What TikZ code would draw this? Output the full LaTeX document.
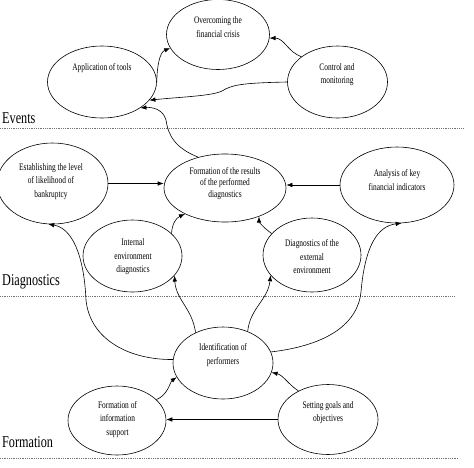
\documentclass[tikz,border=0pt]{standalone}
\usepackage{fontspec}
\setmainfont{Liberation Serif}
\newfontfamily\nrwfont[FakeStretch=0.74]{Liberation Serif}
\usetikzlibrary{shapes.geometric,arrows.meta}

\begin{document}
\begin{tikzpicture}[x=1pt,y=-1pt,
    ell/.style={draw,ellipse,line width=0.6pt,inner sep=0pt},
    txt/.style={align=center,inner sep=0pt,font=\nrwfont\fontsize{10}{13.5}\selectfont},
    sect/.style={anchor=base west,inner sep=0pt,font=\nrwfont\fontsize{16.5}{18}\selectfont},
    sep/.style={black!55,densely dotted,line width=0.8pt},
    arr/.style={line width=0.6pt,-{Latex[length=6pt,width=4.5pt]}}]
    \useasboundingbox (0,0) rectangle (474,467);
    \draw[sep] (0,128) -- (463,128);
    \draw[sep] (0,296) -- (455,296);
    \draw[sep] (0,458) -- (458,458);
    \draw (2,123) node(events) [sect] {Events}
        (2,285) node(diagn) [sect] {Diagnostics}
        (2,447) node(formn) [sect] {Formation};
    \draw (218,34.5) node(over) [ell,minimum width=103pt,minimum height=70pt] {}
        (102,82) node(app) [ell,minimum width=109pt,minimum height=72pt] {}
        (337.5,82) node(ctl) [ell,minimum width=100pt,minimum height=72pt] {}
        (52.5,183.5) node(estab) [ell,minimum width=111pt,minimum height=81pt] {}
        (225,188) node(form) [ell,minimum width=122pt,minimum height=68pt] {}
        (397,185) node(anal) [ell,minimum width=114pt,minimum height=76pt] {}
        (132.5,256) node(intl) [ell,minimum width=99pt,minimum height=72pt] {}
        (312,255) node(extl) [ell,minimum width=98pt,minimum height=74pt] {}
        (223,363) node(ident) [ell,minimum width=100pt,minimum height=72pt] {}
        (117,420.5) node(finfo) [ell,minimum width=98pt,minimum height=69pt] {}
        (328,419.5) node(goals) [ell,minimum width=100pt,minimum height=70pt] {};
    \draw (218,27) node(over-t) [txt] {Overcoming the\\financial crisis}
        (102,68) node(app-t) [txt] {Application of tools}
        (337,74.5) node(ctl-t) [txt] {Control and\\monitoring}
        (51,181.5) node(estab-t) [txt] {Establishing the level\\of likelihood of\\bankruptcy}
        (225,183.5) node(form-t) [txt,font=\nrwfont\fontsize{10}{11.8}\selectfont] {Formation of the results\\of the performed\\diagnostics}
        (397,180) node(anal-t) [txt] {Analysis of key\\financial indicators}
        (133,257) node(intl-t) [txt] {Internal\\environment\\diagnostics}
        (312,257) node(extl-t) [txt] {Diagnostics of the\\external\\environment}
        (223,355) node(ident-t) [txt] {Identification of\\performers}
        (117.5,419.5) node(finfo-t) [txt] {Formation of\\information\\support}
        (328,412.5) node(goals-t) [txt] {Setting goals and\\objectives};
    \draw[arr] (app.east) .. controls (157,65) and (160,52) .. (over.196);
    \draw[arr] (ctl.145) .. controls (288,52) and (284,38) .. (over.356);
    \draw[arr] (ctl.west) .. controls (240,83) and (232,85) .. (222,91)
        .. controls (212,96) and (180,97) .. (app.339);
    \draw[arr] (form.131) .. controls (175,148) and (168,135) .. (166,120)
        .. controls (163,109) and (152,107) .. (app.326);
    \draw[arr] (estab.east) -- (form.west |- estab.east);
    \draw[arr] (anal.west) -- (form.east |- anal.west);
    \draw[arr] (intl.30) .. controls (172,224) and (176,218) .. (form.213);
    \draw[arr] (extl.152) .. controls (264,228) and (259,222) .. (form.320);
    \draw[arr] (ident.176) .. controls (130,360) and (90,340) .. (86,300)
        .. controls (84,255) and (72,228) .. (estab.264);
    \draw[arr] (ident.132) .. controls (192,308) and (176,300) .. (intl.335);
    \draw[arr] (ident.52) .. controls (250,308) and (268,300) .. (extl.206);
    \draw[arr] (ident.13) .. controls (330,345) and (358,322) .. (361,292)
        .. controls (365,245) and (378,226) .. (anal.277);
    \draw[arr] (finfo.28) .. controls (168,395) and (170,382) .. (ident.197);
    \draw[arr] (goals.136) .. controls (288,384) and (283,375) .. (ident.349);
    \draw[arr] (goals.west) -- (finfo.east |- goals.west);
\end{tikzpicture}
\end{document}
